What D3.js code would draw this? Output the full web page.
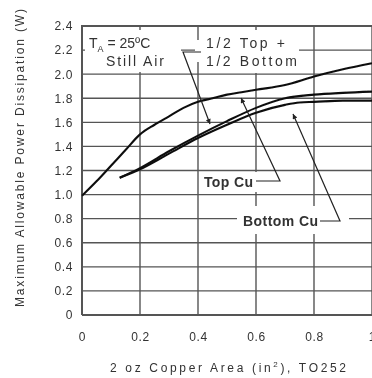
<!DOCTYPE html>
<html>
<head>
<meta charset="utf-8">
<script src="https://cdn.jsdelivr.net/npm/d3@7"></script>
<style>
  html, body { margin: 0; padding: 0; background: #fff; }
  svg { display: block; }
  text { font-family: "Liberation Sans Narrow", "Liberation Sans", "DejaVu Sans", sans-serif; fill: #333; }
</style>
</head>
<body>
<svg id="chart" width="372" height="378"></svg>
<script>
// Copper area (in^2) and allowable dissipation (W) for each board layout
const topCuArea = [0, 0.05, 0.1, 0.15, 0.2, 0.25, 0.3, 0.35, 0.4, 0.45, 0.5, 0.55, 0.6, 0.7, 0.8, 0.9, 1.0];
const topCuPower = [0.99, 1.11, 1.24, 1.37, 1.5, 1.58, 1.65, 1.72, 1.77, 1.80, 1.83, 1.85, 1.87, 1.91, 1.98, 2.04, 2.09];

const halfArea = [0.13, 0.2, 0.3, 0.4, 0.5, 0.6, 0.7, 0.8, 0.9, 1.0];
const halfPower = [1.14, 1.22, 1.36, 1.49, 1.61, 1.72, 1.80, 1.83, 1.845, 1.855];

const bottomCuArea = [0.13, 0.2, 0.3, 0.4, 0.5, 0.6, 0.7, 0.75, 0.8, 0.9, 1.0];
const bottomCuPower = [1.14, 1.21, 1.34, 1.47, 1.58, 1.68, 1.745, 1.765, 1.77, 1.78, 1.78];

const xTicks = [0, 0.2, 0.4, 0.6, 0.8, 1];
const xTickLabels = ["0", "0.2", "0.4", "0.6", "0.8", "1"];
const yTicks = [0, 0.2, 0.4, 0.6, 0.8, 1.0, 1.2, 1.4, 1.6, 1.8, 2.0, 2.2, 2.4];
const yTickLabels = ["0", "0.2", "0.4", "0.6", "0.8", "1.0", "1.2", "1.4", "1.6", "1.8", "2.0", "2.2", "2.4"];

const svg = d3.select("#chart");
const x = d3.scaleLinear().domain([0, 1]).range([82, 372]);
const y = d3.scaleLinear().domain([0, 2.4]).range([315, 26]);

const defs = svg.append("defs");
defs.append("filter").attr("id", "soft")
  .append("feGaussianBlur").attr("stdDeviation", 0.45);
defs.append("marker")
  .attr("id", "head").attr("viewBox", "0 0 10 10")
  .attr("refX", 10).attr("refY", 5)
  .attr("markerWidth", 9).attr("markerHeight", 5)
  .attr("markerUnits", "userSpaceOnUse")
  .attr("orient", "auto")
  .append("path").attr("d", "M0,0 L10,5 L0,10 Z").attr("fill", "#222");

const g = svg.append("g").attr("filter", "url(#soft)");

// grid
const grid = g.append("g").attr("stroke", "#555").attr("stroke-width", 1.4);
grid.selectAll("line.h").data(yTicks).join("line")
  .attr("x1", x(0)).attr("x2", x(1))
  .attr("y1", d => y(d)).attr("y2", d => y(d));
grid.selectAll("line.v").data(xTicks).join("line")
  .attr("x1", d => x(d)).attr("x2", d => x(d))
  .attr("y1", y(0)).attr("y2", y(2.4));

// frame
g.append("path")
  .attr("d", `M${x(0)},${y(0)} L${x(0)},${y(2.4)} L${x(1)},${y(2.4)}`)
  .attr("fill", "none").attr("stroke", "#555").attr("stroke-width", 2);
g.append("line")
  .attr("x1", x(0)).attr("x2", x(1)).attr("y1", y(0)).attr("y2", y(0))
  .attr("stroke", "#555").attr("stroke-width", 2);

// white panels behind the annotations
const panels = [
  [85, 30, 96, 42],
  [201, 30, 98, 43],
  [195, 40, 8, 22],
  [202, 172, 57, 20],
  [237, 206, 112, 28]
];
g.selectAll("rect.panel").data(panels).join("rect")
  .attr("x", d => d[0]).attr("y", d => d[1])
  .attr("width", d => d[2]).attr("height", d => d[3])
  .attr("fill", "#fff");

// tick labels
const yAxis = d3.axisLeft(y).tickValues(yTicks)
  .tickFormat((d, i) => yTickLabels[i]).tickSize(0).tickPadding(9);
const ya = g.append("g").attr("transform", `translate(${x(0)},0)`).call(yAxis);
ya.select(".domain").remove();
ya.selectAll("text").style("font-size", "12px").attr("letter-spacing", "0.6");

const xAxis = d3.axisBottom(x).tickValues(xTicks)
  .tickFormat((d, i) => xTickLabels[i]).tickSize(0).tickPadding(17);
const xa = g.append("g").attr("transform", `translate(0,${y(0)})`).call(xAxis);
xa.select(".domain").remove();
xa.selectAll("text").style("font-size", "12px").attr("letter-spacing", "0.6");

// curves
const line = d3.line().x(d => x(d[0])).y(d => y(d[1])).curve(d3.curveMonotoneX);
const series = [
  d3.zip(topCuArea, topCuPower),
  d3.zip(halfArea, halfPower),
  d3.zip(bottomCuArea, bottomCuPower)
];
g.selectAll("path.curve").data(series).join("path")
  .attr("d", line).attr("fill", "none")
  .attr("stroke", "#111").attr("stroke-width", 2.1);

// annotations
const ann = g.append("g").attr("fill", "none").attr("stroke", "#222").attr("stroke-width", 1.2);
// 1/2 Top + 1/2 Bottom
ann.append("path").attr("d", "M201,52 L183,52 L210,124").attr("marker-end", "url(#head)");
// Top Cu
ann.append("path").attr("d", "M256,181 L280,181 L241,98").attr("marker-end", "url(#head)");
// Bottom Cu
ann.append("path").attr("d", "M320,221 L340,221 L293,114").attr("marker-end", "url(#head)");

const t1 = g.append("text").attr("x", 89).attr("y", 48).style("font-size", "14px");
t1.append("tspan").text("T");
t1.append("tspan").attr("dy", 4).style("font-size", "9px").text("A");
t1.append("tspan").attr("dy", -4).text(" = 25ºC");
g.append("text").attr("x", 106).attr("y", 66).style("font-size", "14px")
  .attr("textLength", 58).text("Still Air");
g.append("text").attr("x", 206).attr("y", 48).style("font-size", "14px")
  .attr("textLength", 79).text("1/2 Top +");
g.append("text").attr("x", 206).attr("y", 66).style("font-size", "14px")
  .attr("textLength", 91).text("1/2 Bottom");
g.append("text").attr("x", 204).attr("y", 187).style("font-size", "14px")
  .style("font-weight", "bold").attr("textLength", 49).text("Top Cu");
g.append("text").attr("x", 243).attr("y", 226).style("font-size", "14px")
  .style("font-weight", "bold").attr("textLength", 75).text("Bottom Cu");

// axis titles
const xt = g.append("text").attr("x", 110).attr("y", 372).style("font-size", "12px")
  .attr("textLength", 236);
xt.append("tspan").text("2 oz Copper Area (in");
xt.append("tspan").attr("dy", -5).style("font-size", "8px").text("2");
xt.append("tspan").attr("dy", 5).text("), TO252");

g.append("text")
  .attr("transform", "translate(24,158) rotate(-90)")
  .attr("text-anchor", "middle").style("font-size", "12px")
  .attr("textLength", 298)
  .text("Maximum Allowable Power Dissipation (W)");
</script>
</body>
</html>
